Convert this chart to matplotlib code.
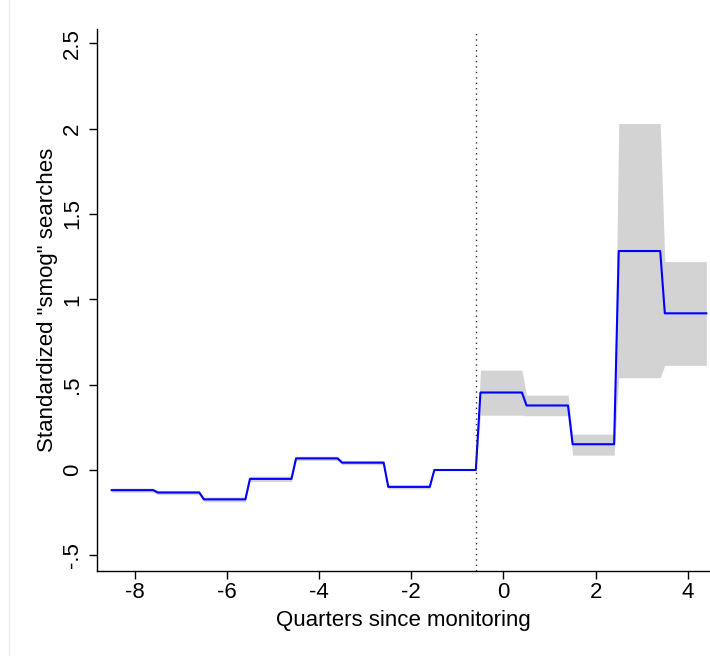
import numpy as np
import matplotlib
matplotlib.use("Agg")
import matplotlib.pyplot as plt
from matplotlib.lines import Line2D

plt.rcParams['font.family'] = ['Liberation Sans', 'DejaVu Sans']

# event-study estimates by quarter
quarters = [-8, -7, -6, -5, -4, -3, -2, -1, 0, 1, 2, 3, 4]
coef = [-0.118, -0.132, -0.172, -0.052, 0.068, 0.043, -0.099, 0.0,
        0.454, 0.378, 0.151, 1.283, 0.918]
ci_lo = [-0.130, -0.144, -0.186, -0.068, 0.055, 0.031, -0.111, 0.0,
         0.321, 0.318, 0.087, 0.541, 0.613]
ci_hi = [-0.106, -0.120, -0.158, -0.036, 0.081, 0.055, -0.087, 0.0,
         0.585, 0.439, 0.210, 2.030, 1.221]
yticks = [-0.5, 0, 0.5, 1, 1.5, 2, 2.5]
ytick_labels = ["-.5", "0", ".5", "1", "1.5", "2", "2.5"]
xticks = [-8, -6, -4, -2, 0, 2, 4]
event_line = -0.6

# each quarter drawn as a flat segment
x = np.ravel([[q - 0.5, q + 0.4] for q in quarters])
y = np.repeat(coef, 2)
lo = np.repeat(ci_lo, 2)
hi = np.repeat(ci_hi, 2)

fig = plt.figure(figsize=(7.10, 6.56), dpi=100)
ax = fig.add_axes([0.1362, 0.1303, 0.8638, 0.8250])

ax.fill_between(x, lo, hi, color="#d3d3d3", lw=0)
ax.plot(x, y, color="#0000ff", lw=1.5)
ax.axvline(event_line, ymax=0.994, color="#333333", lw=1.0,
           linestyle=(0, (1.0, 2.9)))

ax.set_xlim(-8.825, 4.48)
ax.set_ylim(-0.589, 2.582)
ax.set_xticks(xticks)
ax.set_xticklabels([str(t) for t in xticks])
ax.set_yticks(yticks)
ax.set_yticklabels(ytick_labels, rotation=90, va="center")

for s in ["top", "right"]:
    ax.spines[s].set_visible(False)
ax.spines["left"].set_linewidth(1.0)
ax.spines["bottom"].set_linewidth(1.0)
ax.tick_params(length=6, width=1.0, labelsize=16, pad=2)
ax.tick_params(axis="y", pad=4)

ax.set_xlabel("Quarters since monitoring", fontsize=16, labelpad=5)
ax.set_ylabel('Standardized "smog" searches', fontsize=16, labelpad=3)

fig.add_artist(Line2D([8.5 / 710, 8.5 / 710], [0, 1], transform=fig.transFigure,
                      color="#eceeee", lw=1))

fig.savefig("out.png", dpi=100)
